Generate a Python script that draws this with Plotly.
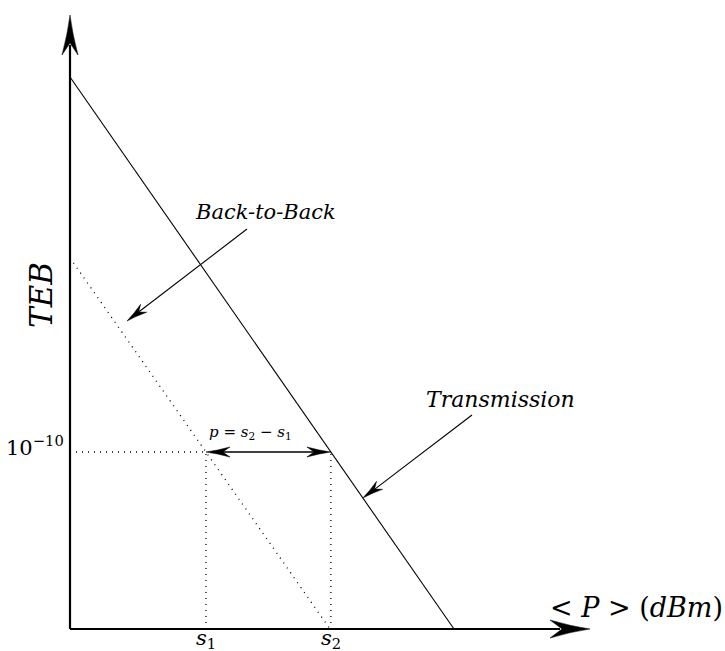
import numpy as np
import plotly.graph_objects as go

# Received power axis (arbitrary linear units, origin at the axes corner)
power_tx = [0, 384]          # Transmission curve end points
teb_tx = [552, 0]
power_b2b = [0, 260]         # Back-to-Back curve end points
teb_b2b = [371, 0]
teb_ref = 177                # level marked 10^-10
ref_label = "10<sup>−10</sup>"
tick_labels = ["<i>s</i><sub>1</sub>", "<i>s</i><sub>2</sub>"]

# Sensitivities s1, s2: power at which each curve reaches the reference level
s1 = float(np.interp(teb_ref, teb_b2b[::-1], power_b2b[::-1]))
s2 = float(np.interp(teb_ref, teb_tx[::-1], power_tx[::-1]))

X_END = 520   # tip of horizontal axis arrow
Y_END = 614   # tip of vertical axis arrow

FONT = "DejaVu Serif"
BLACK = "#000000"
DOT = "1px,5px"


def arrow_head(tip, tail, length, half_width, notch=0.3):
    """Stealth-style filled arrow head as an SVG path, pointing from tail to tip."""
    tip = np.asarray(tip, float)
    tail = np.asarray(tail, float)
    d = tip - tail
    d /= np.hypot(*d)
    n = np.array([-d[1], d[0]])
    base = tip - length * d
    left = base + half_width * n
    right = base - half_width * n
    inner = tip - (1 - notch) * length * d
    c1 = tip - 0.45 * length * d + 0.28 * half_width * n
    c2 = tip - 0.45 * length * d - 0.28 * half_width * n
    return (f"M{tip[0]},{tip[1]} Q{c1[0]},{c1[1]} {left[0]},{left[1]} "
            f"L{inner[0]},{inner[1]} L{right[0]},{right[1]} "
            f"Q{c2[0]},{c2[1]} {tip[0]},{tip[1]} Z")


fig = go.Figure()

# Transmission (solid) and Back-to-Back (dotted) curves
fig.add_trace(go.Scatter(x=power_tx, y=teb_tx, mode="lines",
                         line=dict(color=BLACK, width=1.1), hoverinfo="skip"))
fig.add_trace(go.Scatter(x=power_b2b, y=teb_b2b, mode="lines",
                         line=dict(color=BLACK, width=1.3, dash=DOT), hoverinfo="skip"))

# Guide lines at the reference level and at s1 / s2
fig.add_trace(go.Scatter(x=[0, s1], y=[teb_ref, teb_ref], mode="lines",
                         line=dict(color=BLACK, width=1.3, dash=DOT), hoverinfo="skip"))
for s in (s1, s2):
    fig.add_trace(go.Scatter(x=[s, s], y=[0, teb_ref], mode="lines",
                             line=dict(color=BLACK, width=1.3, dash=DOT), hoverinfo="skip"))

shapes = []

# Axes with large arrow heads
shapes.append(dict(type="line", x0=0, y0=0, x1=X_END - 30, y1=0,
                   line=dict(color=BLACK, width=2.2)))
shapes.append(dict(type="line", x0=0, y0=0, x1=0, y1=Y_END - 30,
                   line=dict(color=BLACK, width=2.2)))
shapes.append(dict(type="path", path=arrow_head((X_END, 0), (0, 0), 40, 9),
                   fillcolor=BLACK, line=dict(color=BLACK, width=0.5)))
shapes.append(dict(type="path", path=arrow_head((0, Y_END), (0, 0), 40, 8),
                   fillcolor=BLACK, line=dict(color=BLACK, width=0.5)))

# Double arrow p = s2 - s1
shapes.append(dict(type="line", x0=s1 + 12, y0=teb_ref, x1=s2 - 12, y1=teb_ref,
                   line=dict(color=BLACK, width=1.6)))
shapes.append(dict(type="path", path=arrow_head((s1, teb_ref), (s2, teb_ref), 24, 5),
                   fillcolor=BLACK, line=dict(color=BLACK, width=0.5)))
shapes.append(dict(type="path", path=arrow_head((s2, teb_ref), (s1, teb_ref), 24, 5),
                   fillcolor=BLACK, line=dict(color=BLACK, width=0.5)))

# Pointer from the "Back-to-Back" label
b2b_tail, b2b_tip = (177, 400), (57, 308)
shapes.append(dict(type="line", x0=b2b_tail[0], y0=b2b_tail[1],
                   x1=b2b_tip[0] + 0.8 * (b2b_tail[0] - b2b_tip[0]) / 8,
                   y1=b2b_tip[1] + 0.8 * (b2b_tail[1] - b2b_tip[1]) / 8,
                   line=dict(color=BLACK, width=1.1)))
shapes.append(dict(type="path", path=arrow_head(b2b_tip, b2b_tail, 21, 5),
                   fillcolor=BLACK, line=dict(color=BLACK, width=0.5)))

# Pointer from the "Transmission" label, ending on the transmission curve
tx_tip_y = 131
tx_tip = (float(np.interp(tx_tip_y, teb_tx[::-1], power_tx[::-1])), tx_tip_y)
tx_tail = (402, 214)
shapes.append(dict(type="line", x0=tx_tail[0], y0=tx_tail[1],
                   x1=tx_tip[0] + 10, y1=tx_tip[1] + 7.4,
                   line=dict(color=BLACK, width=1.1)))
shapes.append(dict(type="path", path=arrow_head(tx_tip, tx_tail, 21, 5),
                   fillcolor=BLACK, line=dict(color=BLACK, width=0.5)))

annotations = [
    dict(x=195, y=417, text="<i>Back-to-Back</i>", size=21),
    dict(x=430, y=230, text="<i>Transmission</i>", size=22),
    dict(x=180, y=197, text="<i>p</i> = <i>s</i><sub>2</sub> − <i>s</i><sub>1</sub>", size=15),
    dict(x=566, y=22, text="&lt; <i>P</i> &gt; (<i>dBm</i>)", size=27),
    dict(x=s1, y=-10, text=tick_labels[0], size=21),
    dict(x=s2, y=-10, text=tick_labels[1], size=21),
]
ann = [dict(x=a["x"], y=a["y"], text=a["text"], showarrow=False,
            xref="x", yref="y", xanchor="center", yanchor="middle",
            font=dict(family=FONT, size=a["size"], color=BLACK)) for a in annotations]
ann.append(dict(x=-4, y=teb_ref + 6, text=ref_label, showarrow=False,
                xref="x", yref="y", xanchor="right", yanchor="middle",
                font=dict(family=FONT, size=21, color=BLACK)))
ann.append(dict(x=-29, y=334, text="<i>TEB</i>", showarrow=False, textangle=-90,
                xref="x", yref="y", xanchor="center", yanchor="middle",
                font=dict(family=FONT, size=31, color=BLACK)))

fig.update_layout(
    width=725, height=651,
    margin=dict(l=0, r=0, t=0, b=0),
    paper_bgcolor="white", plot_bgcolor="white",
    showlegend=False,
    xaxis=dict(range=[-70, 655], visible=False, fixedrange=True),
    yaxis=dict(range=[-22, 629], visible=False, fixedrange=True),
    shapes=shapes,
    annotations=ann,
)

fig.write_html("out.html", config={"displayModeBar": False})
